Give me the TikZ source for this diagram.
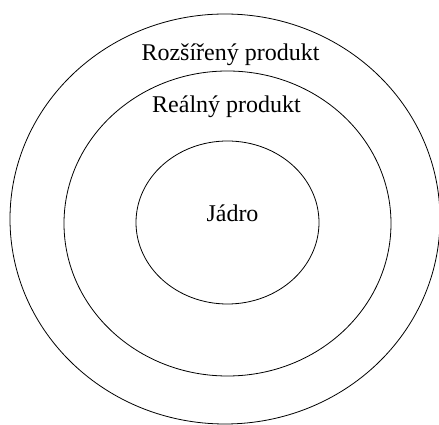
\documentclass[tikz,border=0pt]{standalone}
\usepackage{fontspec}
\setmainfont{Liberation Serif}
\usepackage{tikz}
\usetikzlibrary{positioning}

\begin{document}
\begin{tikzpicture}[x=1pt,y=1pt,
  layer/.style={line width=0.8pt},
  label/.style={anchor=base,inner sep=0pt,font=\fontsize{24}{28}\selectfont}]
\useasboundingbox (0,0) rectangle (439,425);

% Layers of the product
\draw[layer] (225,206) ellipse [x radius=215, y radius=205];
\draw[layer] (227.5,201.5) ellipse [x radius=163.5, y radius=152.5];
\draw[layer] (227.5,202.5) ellipse [x radius=91.5, y radius=81.5];

% Labels
\node[label] (rozsireny) at (230.5,364) {Rozšířený produkt};
\node[label] (realny) at (226.5,312) {Reálný produkt};
\node[label] (jadro) at (232.5,203) {Jádro};
\end{tikzpicture}
\end{document}
